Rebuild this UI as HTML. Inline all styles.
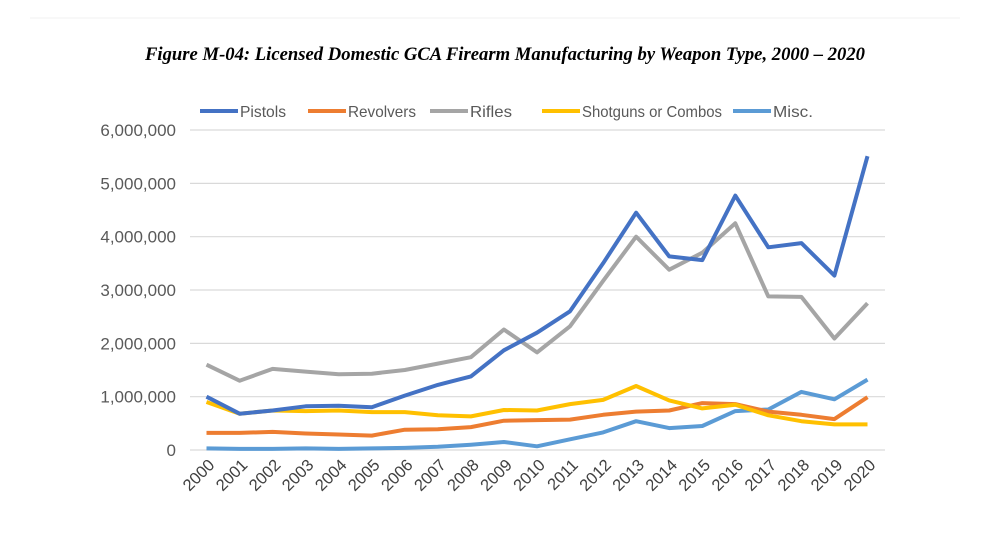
<!DOCTYPE html>
<html><head><meta charset="utf-8"><style>
body{margin:0;background:#fff;}
svg{display:block}
</style></head><body>
<svg id="c" width="987" height="551" xmlns="http://www.w3.org/2000/svg">
<rect width="987" height="551" fill="#fff"/>
<line x1="30" y1="18" x2="960" y2="18" stroke="#f2f2f2" stroke-width="1"/>
<text x="505" y="60" text-anchor="middle" font-family="Liberation Serif, serif" font-style="italic" font-weight="bold" font-size="18.5" textLength="720" lengthAdjust="spacingAndGlyphs">Figure M-04:  Licensed Domestic GCA Firearm Manufacturing by Weapon Type, 2000 – 2020</text>
<g id="g"></g>
</svg>
<script>
const g=document.getElementById('g');
let s='';
const y0=450,k=53.33,x0=206.5,dx=33.05;
for(let i=0;i<=6;i++){const y=y0-i*k;
s+=`<line x1="190" y1="${y}" x2="885" y2="${y}" stroke="#d9d9d9" stroke-width="1.2"/>`;
const lab=i==0?'0':(i+',000,000');
s+=`<text x="176" y="${y+6}" text-anchor="end" font-family="Liberation Sans, sans-serif" font-size="17" fill="#595959">${lab}</text>`;}
for(let i=0;i<=20;i++){const x=x0+i*dx;
s+=`<text transform="translate(${x+9},${466}) rotate(-45)" text-anchor="end" font-family="Liberation Sans, sans-serif" font-size="16.5" fill="#404040">${2000+i}</text>`;}
const D=[
['#4472c4',[1.0,.68,.74,.82,.83,.80,1.02,1.22,1.38,1.87,2.2,2.6,3.5,4.45,3.63,3.56,4.77,3.8,3.88,3.27,5.51]],
['#ed7d31',[.32,.32,.34,.31,.29,.27,.38,.39,.43,.55,.56,.57,.66,.72,.74,.88,.86,.72,.66,.58,.99]],
['#a5a5a5',[1.6,1.3,1.52,1.47,1.42,1.43,1.5,1.62,1.74,2.26,1.83,2.32,3.17,4.0,3.38,3.7,4.25,2.88,2.87,2.09,2.75]],
['#ffc000',[.9,.68,.74,.73,.74,.71,.71,.65,.63,.75,.74,.86,.94,1.2,.93,.78,.85,.65,.54,.48,.48]],
['#5b9bd5',[.03,.02,.02,.03,.02,.03,.04,.06,.1,.15,.07,.2,.33,.54,.41,.45,.73,.76,1.09,.95,1.32]]];
const order=[4,1,3,2,0];
for(const j of order){const [c,v]=D[j];
s+=`<polyline fill="none" stroke="${c}" stroke-width="4" stroke-linejoin="round" points="${v.map((a,i)=>(x0+i*dx).toFixed(1)+','+(y0-a*k).toFixed(1)).join(' ')}"/>`;}
const L=[['Pistols',200,46],['Revolvers',308,68],['Rifles',430,42],['Shotguns or Combos',542,140],['Misc.',733,40]];
L.forEach((l,i)=>{s+=`<line x1="${l[1]}" y1="111" x2="${l[1]+38}" y2="111" stroke="${D[i][0]}" stroke-width="4"/>`;
s+=`<text x="${l[1]+40}" y="117" font-family="Liberation Sans, sans-serif" font-size="16" fill="#595959" textLength="${l[2]}" lengthAdjust="spacingAndGlyphs">${l[0]}</text>`;});
g.innerHTML=s;
</script>
</body></html>
